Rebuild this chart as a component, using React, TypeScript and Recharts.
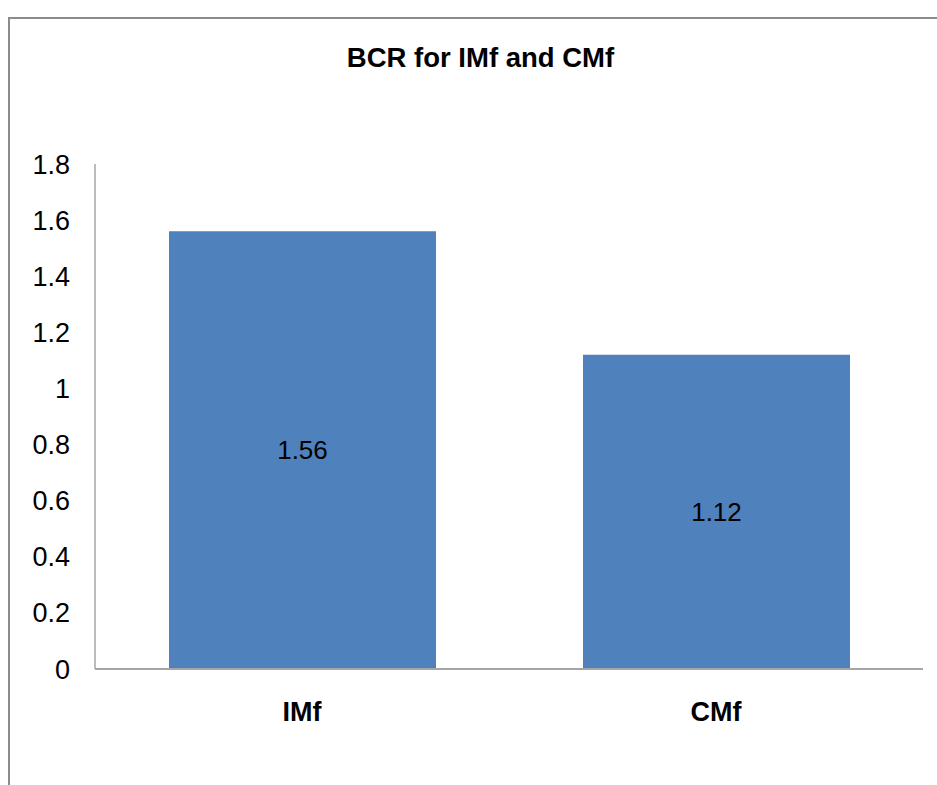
import React from "react";
import { BarChart, Bar, XAxis, YAxis, LabelList } from "recharts";

// Benefit-cost ratio per method
const categories = ["IMf", "CMf"];
const bcrValues = [1.56, 1.12];
const yTicks = [0, 0.2, 0.4, 0.6, 0.8, 1, 1.2, 1.4, 1.6, 1.8];

const data = categories.map((name, i) => ({ name, bcr: bcrValues[i] }));

const FONT = '"Liberation Sans", Arial, sans-serif';
const AXIS_GREY = "#a6a6a6";

export default function App() {
  return (
    <div
      style={{
        position: "fixed",
        left: 0,
        top: 0,
        width: 937,
        height: 785,
        overflow: "hidden",
        background: "#fff",
      }}
    >
      {/* chart frame, running off the right and bottom edges */}
      <div
        style={{
          position: "absolute",
          left: 8,
          top: 17,
          width: 1000,
          height: 1000,
          borderTop: "2px solid #8c8c8c",
          borderLeft: "2px solid #8c8c8c",
        }}
      />
      <svg
        width={937}
        height={100}
        style={{ position: "absolute", left: 0, top: 0 }}
      >
        <text
          x={480.5}
          y={67}
          textAnchor="middle"
          fontFamily={FONT}
          fontWeight="bold"
          fontSize={27.5}
          fill="#000"
        >
          BCR for IMf and CMf
        </text>
      </svg>
      <div style={{ position: "absolute", left: 0, top: 0 }}>
        <BarChart
          width={937}
          height={785}
          data={data}
          margin={{ top: 164, right: 14, bottom: 56, left: 0 }}
        >
          <XAxis
            dataKey="name"
            height={60}
            axisLine={{ stroke: AXIS_GREY, strokeWidth: 2 }}
            tickLine={false}
            tickSize={0}
            tickMargin={33}
            tick={{ fill: "#000", fontSize: 27, fontWeight: "bold", fontFamily: FONT }}
          />
          <YAxis
            width={95}
            domain={[0, 1.8]}
            ticks={yTicks}
            interval={0}
            axisLine={{ stroke: AXIS_GREY, strokeWidth: 1.5 }}
            tickLine={false}
            tickSize={0}
            tickMargin={25}
            tick={{ fill: "#000", fontSize: 27, fontFamily: FONT }}
          />
          <Bar dataKey="bcr" fill="#4f81bd" barSize={267} isAnimationActive={false}>
            <LabelList
              dataKey="bcr"
              position="center"
              fill="#000"
              fontSize={26}
              fontFamily={FONT}
            />
          </Bar>
        </BarChart>
      </div>
    </div>
  );
}
